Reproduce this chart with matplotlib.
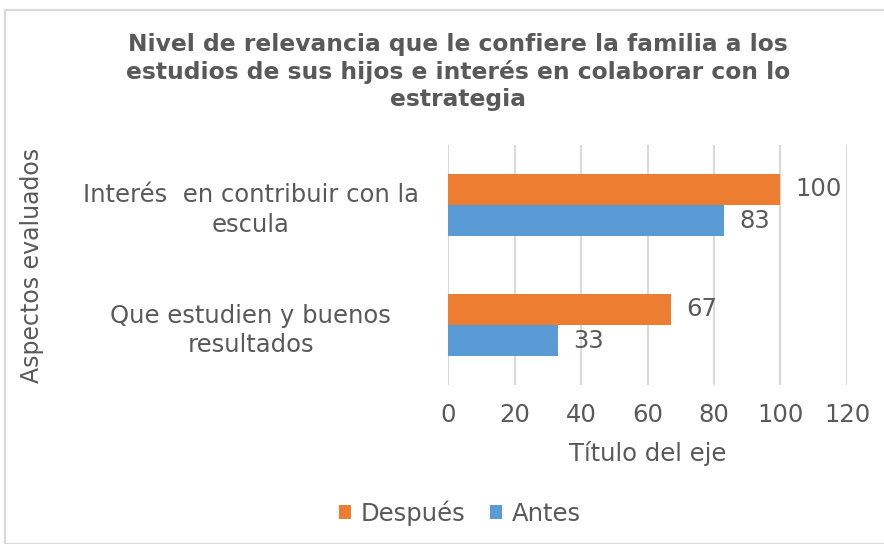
import matplotlib
matplotlib.use("Agg")
import matplotlib.pyplot as plt
from matplotlib.patches import Rectangle
import numpy as np

# data
categories = ["Que estudien y buenos\nresultados", "Interés  en contribuir con la\nescula"]
despues = [67, 100]
antes = [33, 83]
series_names = ["Después", "Antes"]
x_ticks = [0, 20, 40, 60, 80, 100, 120]

ORANGE = "#ED7D31"
BLUE = "#5B9BD5"
GRAY = "#595959"
FS = 17.5

plt.rcParams["font.family"] = ["DejaVu Sans"]

fig = plt.figure(figsize=(8.84, 5.44), dpi=100)
W, H = 884, 544

# chart frame
fig.patches.append(Rectangle((5 / W, 0), 1.0, 1 - 10 / H, transform=fig.transFigure,
                             fill=False, edgecolor="#d9d9d9", linewidth=1.5))

ax = fig.add_axes([448 / W, 1 - 385 / H, (847 - 448) / W, (385 - 145) / H])

y = np.arange(len(categories))
h = 0.26
b1 = ax.barh(y + h / 2, despues, height=h, color=ORANGE, label=series_names[0], zorder=3)
b2 = ax.barh(y - h / 2, antes, height=h, color=BLUE, label=series_names[1], zorder=3)

for bars in (b1, b2):
    for bar in bars:
        v = bar.get_width()
        ax.annotate(f"{v:g}", (v, bar.get_y() + bar.get_height() / 2),
                    xytext=(11, 0), textcoords="offset points", ha="left", va="center",
                    fontsize=FS, color=GRAY, zorder=4)

ax.set_xlim(0, 120)
ax.set_ylim(-0.5, 1.5)
ax.set_xticks(x_ticks)
ax.set_yticks(y)
ax.set_yticklabels(categories, ha="center", multialignment="center", linespacing=1.3)
ax.tick_params(axis="y", length=0, pad=142, labelsize=FS, labelcolor=GRAY)
ax.tick_params(axis="x", length=0, pad=13, labelsize=FS, labelcolor=GRAY)
ax.grid(axis="x", color="#d9d9d9", linewidth=1.5, zorder=0)
for s in ax.spines.values():
    s.set_visible(False)

ax.set_xlabel("Título del eje", fontsize=FS, color=GRAY, labelpad=10)
fig.text(32 / W, 1 - 265 / H, "Aspectos evaluados", rotation=90, ha="center", va="center",
         fontsize=17, color=GRAY)

fig.text(458 / W, 1 - 72 / H,
         "Nivel de relevancia que le confiere la familia a los\n"
         "estudios de sus hijos e interés en colaborar con lo\nestrategia",
         ha="center", va="center", fontsize=16.8, fontweight="bold", color=GRAY,
         linespacing=1.22)

fig.legend(handles=[b1, b2], loc="center", bbox_to_anchor=(460 / W, 1 - 513 / H),
           ncol=2, frameon=False, fontsize=FS, labelcolor=GRAY,
           handlelength=0.5, handleheight=0.5, handletextpad=0.4, columnspacing=1.0)

fig.savefig("out.png", dpi=100)
